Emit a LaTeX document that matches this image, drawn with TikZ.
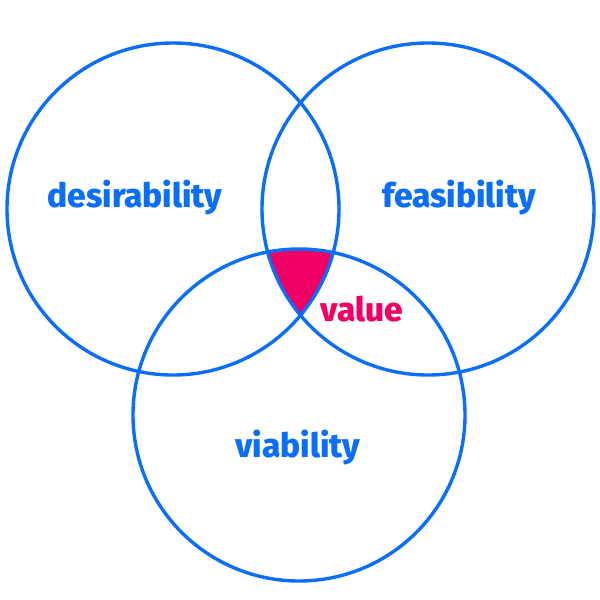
\documentclass[tikz,border=0pt]{standalone}
\usepackage{fontspec}
\setmainfont{Fira Sans}
\newfontfamily\heavyfont{Fira Sans ExtraBold}
\definecolor{ringblue}{RGB}{10,110,250}
\definecolor{valuepink}{RGB}{240,0,100}
\tikzset{
  ring/.style={draw=ringblue, line width=3.4pt},
  label/.style={font=\heavyfont\fontsize{33.5}{37}\selectfont, text=ringblue}
}
\begin{document}
\begin{tikzpicture}[x=1pt, y=-1pt]
  \useasboundingbox (0,0) rectangle (600,600);
  % Centres of the three circles
  \coordinate (cD) at (173,209);
  \coordinate (cF) at (428,209);
  \coordinate (cV) at (299,415);
  % Common part of all three
  \begin{scope}
    \clip (cD) circle (166pt);
    \clip (cF) circle (166pt);
    \fill[valuepink] (cV) circle (166pt);
  \end{scope}
  % Circles
  \draw[ring] (cD) circle (166pt);
  \draw[ring] (cF) circle (166pt);
  \draw[ring] (cV) circle (166pt);
  % Labels
  \node[label] (desirability) at (135,198) {desirability};
  \node[label] (feasibility) at (459,198) {feasibility};
  \node[label] (viability) at (298,448) {viability};
  \node[label, text=valuepink] (value) at (362,309) {value};
\end{tikzpicture}
\end{document}
